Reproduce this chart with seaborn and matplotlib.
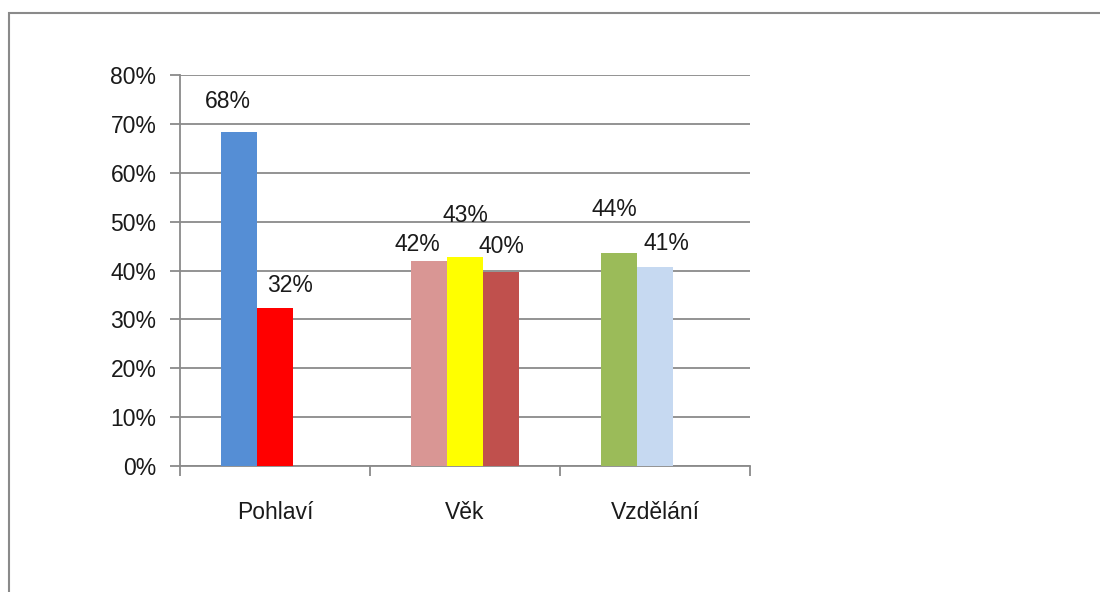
import numpy as np
import pandas as pd
import seaborn as sns
from matplotlib import pyplot as plt
from matplotlib.patches import Rectangle
from matplotlib.ticker import PercentFormatter

# data
kategorie = ['Pohlaví', 'Pohlaví', 'Věk', 'Věk', 'Věk', 'Vzdělání', 'Vzdělání']
slot = [0, 1, 0, 1, 2, 0, 1]
hodnoty = [68.4, 32.4, 41.9, 42.8, 39.6, 43.6, 40.7]
barvy = ['#558ED5', '#FF0000', '#D99694', '#FFFF00', '#C0504D', '#9BBB59', '#C6D9F1']
poradi = ['Pohlaví', 'Věk', 'Vzdělání']
y_ticks = [0, 10, 20, 30, 40, 50, 60, 70, 80]

# label offsets (points) relative to bar top centre
label_dx = [-8, 11, -8, 0, 0, -3, 8]
label_dy = [22, 16, 12, 30, 19, 31, 17]

df = pd.DataFrame({'kategorie': kategorie, 'slot': slot, 'hodnota': hodnoty})

sns.set_style('white')
plt.rcParams['font.family'] = ['Liberation Sans', 'DejaVu Sans']
FS = 16.5

fig = plt.figure(figsize=(11, 5.92), dpi=100)
ax = fig.add_axes([180 / 1100, 1 - 466 / 592, 570 / 1100, 391 / 592])

sns.barplot(data=df, x='kategorie', y='hodnota', hue='slot', hue_order=[0, 1, 2],
            order=poradi, dodge=True, width=0.57, ax=ax, legend=False,
            errorbar=None, saturation=1, linewidth=0, zorder=3)

# recolour each bar and put its label on
lookup = {(poradi.index(k), s): i for i, (k, s) in enumerate(zip(kategorie, slot))}
for lvl, cont in enumerate(ax.containers):
    for bar in cont:
        h = bar.get_height()
        if np.isnan(h):
            continue
        xc = bar.get_x() + bar.get_width() / 2
        i = lookup[(int(round(xc)), lvl)]
        bar.set_facecolor(barvy[i])
        ax.annotate(f'{round(hodnoty[i])}%', (xc, h), xytext=(label_dx[i], label_dy[i]),
                    textcoords='offset points', ha='center', va='center', fontsize=FS,
                    color='#1a1a1a')

grid_c = '#8a8a8a'
ax.set_ylim(0, 80)
ax.set_xlim(-0.5, 2.5)
ax.set_yticks(y_ticks)
ax.yaxis.set_major_formatter(PercentFormatter(decimals=0))
ax.grid(axis='y', color=grid_c, lw=1.3, zorder=0)
ax.set_axisbelow(True)
for s in ['top', 'right']:
    ax.spines[s].set_visible(False)
for s in ['left', 'bottom']:
    ax.spines[s].set_color(grid_c)
    ax.spines[s].set_linewidth(1.3)

ax.tick_params(axis='y', length=7, width=1.3, color=grid_c, pad=10, labelsize=FS,
               labelcolor='#1a1a1a', left=True)
ax.set_xticks([-0.5, 0.5, 1.5, 2.5], minor=True)
ax.tick_params(axis='x', which='minor', length=7, width=1.3, color=grid_c, bottom=True)
ax.tick_params(axis='x', which='major', length=0, pad=25, labelsize=FS, labelcolor='#1a1a1a')
ax.set_xlabel('')
ax.set_ylabel('')

# outer chart frame (Excel chart area border)
fig.patches.append(Rectangle((9 / 1100, -0.1), 1.2, 1.1 - 13 / 592, transform=fig.transFigure,
                             fill=False, edgecolor='#8a8a8a', lw=1.5, clip_on=False))

fig.savefig('out.png', dpi=100)
